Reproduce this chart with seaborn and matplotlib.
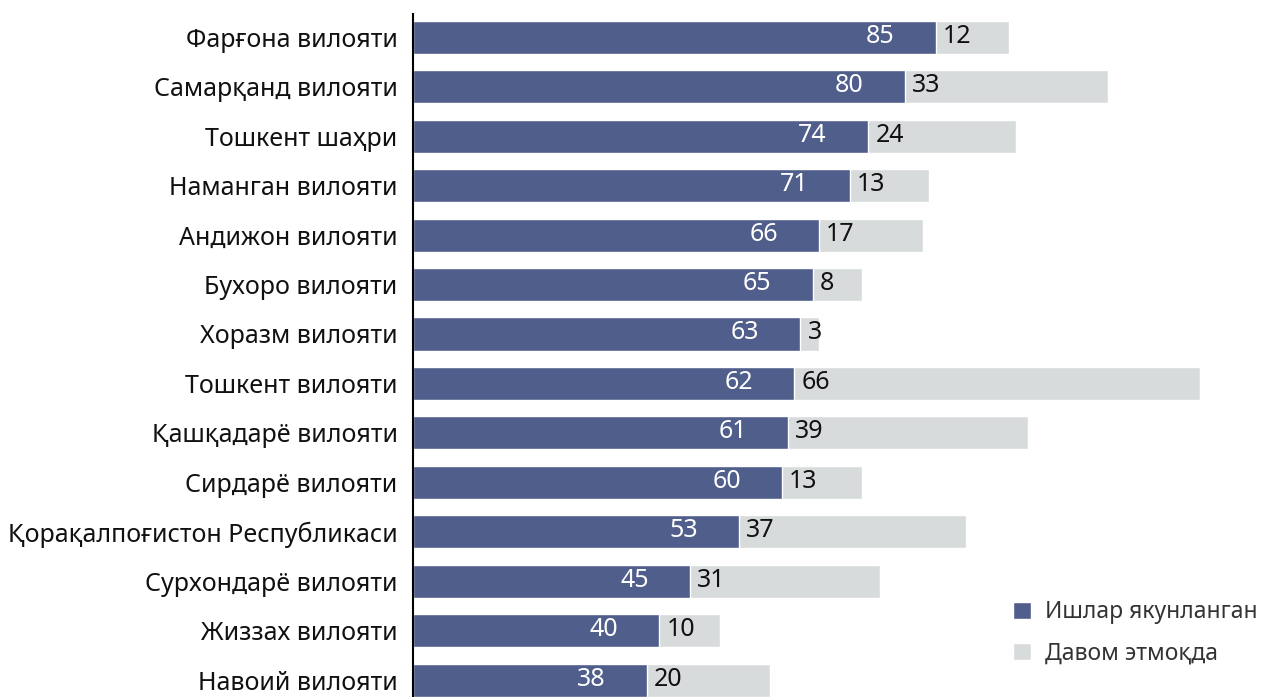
import pandas as pd
import matplotlib.pyplot as plt
import seaborn as sns

# data
regions = [
    "Фарғона вилояти",
    "Самарқанд вилояти",
    "Тошкент шаҳри",
    "Наманган вилояти",
    "Андижон вилояти",
    "Бухоро вилояти",
    "Хоразм вилояти",
    "Тошкент вилояти",
    "Қашқадарё вилояти",
    "Сирдарё вилояти",
    "Қорақалпоғистон Республикаси",
    "Сурхондарё вилояти",
    "Жиззах вилояти",
    "Навоий вилояти",
]
done = [85, 80, 74, 71, 66, 65, 63, 62, 61, 60, 53, 45, 40, 38]
ongoing = [12, 33, 24, 13, 17, 8, 3, 66, 39, 13, 37, 31, 10, 20]
series_names = ["Ишлар якунланган", "Давом этмоқда"]

DARK = "#505E8B"
LIGHT = "#D8DBDC"

df = pd.DataFrame({"region": regions, "done": done, "ongoing": ongoing})
df["total"] = df["done"] + df["ongoing"]

sns.set_theme(style="white")
plt.rcParams["font.family"] = ["Noto Sans", "DejaVu Sans"]

fig = plt.figure(figsize=(12.63, 6.97), dpi=100)
ax = fig.add_axes([413 / 1263, 0, (1200 - 413) / 1263, 1 - 14 / 697])

# total bar first (light), then the completed part on top
sns.barplot(data=df, y="region", x="total", color=LIGHT, width=0.67,
            saturation=1, ax=ax, label=series_names[1])
sns.barplot(data=df, y="region", x="done", color=DARK, width=0.67,
            saturation=1, ax=ax, label=series_names[0])

for i, (d, o) in enumerate(zip(done, ongoing)):
    ax.text(d - 9, i - 0.02, str(d), ha="center", va="center", color="white", fontsize=18)
    ax.text(d + 1.2, i - 0.02, str(o), ha="left", va="center", color="#111111", fontsize=18)

ax.set_xlim(0, 128)
ax.set_ylim(13.34, -0.47)
ax.set_xlabel("")
ax.set_ylabel("")
ax.set_xticks([])
ax.tick_params(axis="y", length=0, pad=11, labelsize=18, labelcolor="#111111")
for s in ["top", "right", "bottom"]:
    ax.spines[s].set_visible(False)
ax.spines["left"].set_color("black")
ax.spines["left"].set_linewidth(1.5)

handles, labels = ax.get_legend_handles_labels()
ax.legend(handles[::-1], labels[::-1], loc="lower left",
          bbox_to_anchor=(1013 / 1263, 0.045), bbox_transform=fig.transFigure,
          frameon=False, fontsize=16.5, handlelength=0.8, handleheight=0.8,
          handletextpad=0.6, labelspacing=0.75, borderpad=0, borderaxespad=0,
          labelcolor="#333333")

fig.savefig("out.png", dpi=100)
